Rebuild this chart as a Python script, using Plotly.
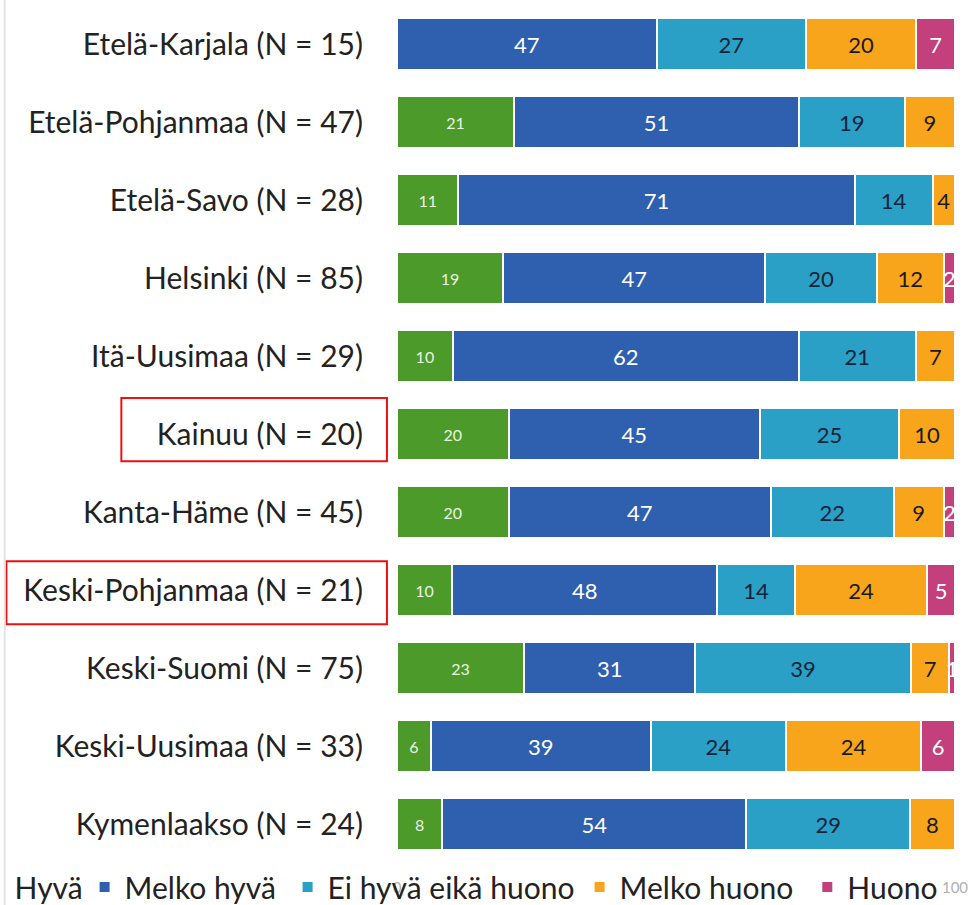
import plotly.graph_objects as go

regions = ["Etelä-Karjala (N = 15)", "Etelä-Pohjanmaa (N = 47)", "Etelä-Savo (N = 28)",
           "Helsinki (N = 85)", "Itä-Uusimaa (N = 29)", "Kainuu (N = 20)",
           "Kanta-Häme (N = 45)", "Keski-Pohjanmaa (N = 21)", "Keski-Suomi (N = 75)",
           "Keski-Uusimaa (N = 33)", "Kymenlaakso (N = 24)"]

hyva = [0, 21, 11, 19, 10, 20, 20, 10, 23, 6, 8]
melko_hyva = [47, 51, 71, 47, 62, 45, 47, 48, 31, 39, 54]
ei_hyva_eika_huono = [27, 19, 14, 20, 21, 25, 22, 14, 39, 24, 29]
melko_huono = [20, 9, 4, 12, 7, 10, 9, 24, 7, 24, 8]
huono = [7, 0, 0, 2, 0, 0, 2, 5, 1, 6, 0]

series_names = ["Hyvä", "Melko hyvä", "Ei hyvä eikä huono", "Melko huono", "Huono"]
series_values = [hyva, melko_hyva, ei_hyva_eika_huono, melko_huono, huono]
colors = ["#4c9a2a", "#2f5faf", "#2ba0c6", "#f9a51c", "#c4407c"]
text_colors = ["#e8f5e0", "#ffffff", "#16233a", "#1a1a1a", "#ffffff"]
text_sizes = [16, 22, 22, 22, 22]
legend_widths = [65, 158, 247, 181, 100]
legend_ids = ["legend", "legend", "legend", "legend", "legend2"]

FONT = "Lato"

fig = go.Figure()
for name, vals, col, tcol, tsz, lw, lg in zip(series_names, series_values, colors,
                                              text_colors, text_sizes, legend_widths, legend_ids):
    fig.add_trace(go.Bar(
        name=name, y=regions, x=vals, orientation="h",
        marker=dict(color=col, line=dict(color="white", width=2)),
        text=[str(v) if v > 0 else "" for v in vals],
        texttemplate="%{text}",
        textposition="inside", insidetextanchor="middle", textangle=0,
        constraintext="none",
        insidetextfont=dict(family=FONT, size=tsz, color=tcol),
        legendwidth=lw, legend=lg,
        hoverinfo="skip",
    ))

legend_style = dict(orientation="h", xanchor="left", y=-0.028, yanchor="middle",
                    font=dict(family=FONT, size=30, color="#222222"),
                    traceorder="normal", bgcolor="rgba(0,0,0,0)")

fig.update_layout(
    width=979, height=905,
    barmode="stack", barnorm="percent", bargap=0.33,
    plot_bgcolor="white", paper_bgcolor="white",
    margin=dict(l=397, r=24, t=5, b=42, autoexpand=False),
    font=dict(family=FONT, color="#222222"),
    showlegend=True,
    legend=dict(x=-0.757, **legend_style),
    legend2=dict(x=0.7353, **legend_style),
    xaxis=dict(range=[0, 100], tickvals=[0, 100], ticktext=["0", "100"],
               showgrid=True, gridcolor="#e3e3e3", gridwidth=1,
               zeroline=False, showline=False,
               tickfont=dict(family=FONT, size=15, color="#b0b0b0"),
               ticklabelstandoff=14, fixedrange=True),
    yaxis=dict(autorange="reversed", showgrid=False, zeroline=False, showline=False,
               tickfont=dict(family=FONT, size=30, color="#222222"),
               ticklabelstandoff=33, fixedrange=True),
)

# highlight boxes around two region labels
fig.add_shape(type="rect", xref="paper", yref="y", x0=-0.494, x1=-0.018, y0=4.54, y1=5.35,
              line=dict(color="#ee1111", width=2), fillcolor="rgba(0,0,0,0)")
fig.add_shape(type="rect", xref="paper", yref="y", x0=-0.700, x1=-0.018, y0=6.63, y1=7.44,
              line=dict(color="#ee1111", width=2), fillcolor="rgba(0,0,0,0)")
# faint border at left edge of the screenshot
fig.add_shape(type="line", xref="paper", yref="paper", x0=-0.703, x1=-0.703, y0=-0.05, y1=1.01,
              line=dict(color="#e4e4e4", width=2))

fig.write_html("out.html", config={"displayModeBar": False},
               post_script="document.body.style.margin='0';")
